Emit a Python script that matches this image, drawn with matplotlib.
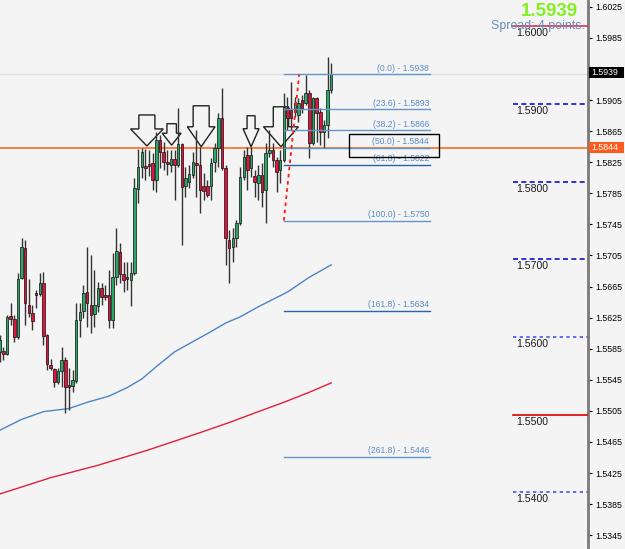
import numpy as np
import matplotlib
matplotlib.use("Agg")
import matplotlib.pyplot as plt
from matplotlib.patches import Polygon, Rectangle

plt.rcParams['font.family'] = ['Liberation Sans', 'DejaVu Sans']

# =============================================================================
# DATOS
# =============================================================================
opens = [1.5581, 1.5582, 1.5578, 1.5627, 1.5623, 1.5600, 1.5676, 1.5715, 1.5641, 1.5631,
         1.5657, 1.5655, 1.5670, 1.5603, 1.5564, 1.5559, 1.5542, 1.5556, 1.5571, 1.5538,
         1.5537, 1.5543, 1.5622, 1.5634, 1.5658, 1.5641, 1.5630, 1.5640, 1.5663, 1.5654,
         1.5654, 1.5622, 1.5677, 1.5710, 1.5681, 1.5677, 1.5673, 1.5682, 1.5791, 1.5819,
         1.5820, 1.5823, 1.5824, 1.5802, 1.5854, 1.5838, 1.5825, 1.5822, 1.5829, 1.5822,
         1.5849, 1.5794, 1.5800, 1.5809, 1.5824, 1.5822, 1.5794, 1.5794, 1.5794, 1.5825,
         1.5843, 1.5882, 1.5818, 1.5725, 1.5716, 1.5728, 1.5747, 1.5806, 1.5834, 1.5818,
         1.5807, 1.5798, 1.5809, 1.5789, 1.5837, 1.5841, 1.5828, 1.5815, 1.5828, 1.5895,
         1.5892, 1.5890, 1.5886, 1.5905, 1.5901, 1.5914, 1.5850, 1.5908, 1.5890, 1.5864,
         1.5873, 1.5918]
highs = [1.5603, 1.5587, 1.5628, 1.5644, 1.5628, 1.5682, 1.5728, 1.5725, 1.5675, 1.5641,
         1.5661, 1.5682, 1.5684, 1.5604, 1.5572, 1.5560, 1.5560, 1.5587, 1.5574, 1.5560,
         1.5558, 1.5644, 1.5644, 1.5667, 1.5716, 1.5706, 1.5686, 1.5671, 1.5670, 1.5667,
         1.5686, 1.5708, 1.5740, 1.5721, 1.5697, 1.5697, 1.5697, 1.5805, 1.5842, 1.5843,
         1.5842, 1.5841, 1.5837, 1.5864, 1.5860, 1.5851, 1.5841, 1.5841, 1.5841, 1.5895,
         1.5850, 1.5819, 1.5822, 1.5838, 1.5867, 1.5845, 1.5811, 1.5802, 1.5831, 1.5850,
         1.5888, 1.5921, 1.5822, 1.5738, 1.5740, 1.5751, 1.5819, 1.5841, 1.5845, 1.5845,
         1.5815, 1.5822, 1.5824, 1.5850, 1.5867, 1.5850, 1.5832, 1.5841, 1.5914, 1.5909,
         1.5928, 1.5909, 1.5908, 1.5912, 1.5937, 1.5918, 1.5909, 1.5909, 1.5895, 1.5879,
         1.5961, 1.5953]
lows = [1.5568, 1.5571, 1.5577, 1.5616, 1.5594, 1.5598, 1.5675, 1.5616, 1.5626, 1.5609,
        1.5637, 1.5653, 1.5590, 1.5558, 1.5558, 1.5536, 1.5540, 1.5536, 1.5502, 1.5506,
        1.5529, 1.5541, 1.5600, 1.5625, 1.5613, 1.5605, 1.5613, 1.5632, 1.5641, 1.5648,
        1.5612, 1.5612, 1.5667, 1.5670, 1.5658, 1.5661, 1.5640, 1.5680, 1.5773, 1.5805,
        1.5802, 1.5807, 1.5789, 1.5787, 1.5818, 1.5815, 1.5809, 1.5813, 1.5776, 1.5819,
        1.5719, 1.5780, 1.5792, 1.5805, 1.5780, 1.5760, 1.5776, 1.5780, 1.5776, 1.5813,
        1.5819, 1.5815, 1.5693, 1.5670, 1.5697, 1.5716, 1.5744, 1.5802, 1.5789, 1.5806,
        1.5780, 1.5776, 1.5767, 1.5747, 1.5832, 1.5819, 1.5787, 1.5798, 1.5825, 1.5867,
        1.5867, 1.5883, 1.5877, 1.5888, 1.5899, 1.5831, 1.5847, 1.5851, 1.5847, 1.5843,
        1.5856, 1.5914]
closes = [1.5596, 1.5578, 1.5626, 1.5623, 1.5600, 1.5675, 1.5716, 1.5644, 1.5631, 1.5621,
          1.5654, 1.5670, 1.5601, 1.5565, 1.5560, 1.5542, 1.5556, 1.5571, 1.5536, 1.5536,
          1.5545, 1.5622, 1.5632, 1.5657, 1.5644, 1.5628, 1.5641, 1.5663, 1.5652, 1.5652,
          1.5622, 1.5677, 1.5711, 1.5681, 1.5673, 1.5675, 1.5682, 1.5792, 1.5819, 1.5838,
          1.5818, 1.5820, 1.5802, 1.5854, 1.5838, 1.5825, 1.5823, 1.5829, 1.5822, 1.5849,
          1.5793, 1.5805, 1.5810, 1.5825, 1.5822, 1.5789, 1.5788, 1.5783, 1.5824, 1.5843,
          1.5882, 1.5818, 1.5728, 1.5715, 1.5728, 1.5747, 1.5806, 1.5832, 1.5815, 1.5834,
          1.5800, 1.5809, 1.5787, 1.5837, 1.5841, 1.5828, 1.5813, 1.5828, 1.5896, 1.5882,
          1.5882, 1.5901, 1.5901, 1.5895, 1.5914, 1.5850, 1.5908, 1.5888, 1.5864, 1.5873,
          1.5918, 1.5939]

# medias móviles
ma_blue_idx = [0, 6, 12, 19, 24, 30, 35, 39, 43, 48, 53, 58, 62, 66, 71, 79, 85, 91]
ma_blue_val = [1.5480, 1.5494, 1.5504, 1.5508, 1.5516, 1.5524, 1.5535, 1.5546, 1.5562,
               1.5581, 1.5594, 1.5607, 1.5618, 1.5626, 1.5639, 1.5658, 1.5677, 1.5693]
ma_red_idx = [0, 14, 27, 41, 55, 63, 71, 78, 85, 91]
ma_red_val = [1.5398, 1.5419, 1.5435, 1.5455, 1.5477, 1.5490, 1.5504, 1.5516, 1.5529, 1.5541]

# Fibonacci
fib_pct = ['0.0', '23.6', '38.2', '50.0', '61.8', '100.0', '161.8', '261.8']
fib_price = [1.5938, 1.5893, 1.5866, 1.5844, 1.5822, 1.5750, 1.5634, 1.5446]

# niveles redondos
round_levels = [1.6000, 1.5900, 1.5800, 1.5700, 1.5600, 1.5500, 1.5400]

bid = 1.5939
hline_price = 1.5844
axis_ticks = [1.5345 + 0.004 * k for k in range(18)]

# flechas: (índice punta, precio punta, semiancho cabeza, alto cabeza, semiancho cuerpo, alto cuerpo)
arrows = [
    (40.4, 1.5846, 4.5, 0.00219, 2.2, 0.0018),
    (47.2, 1.5847, 2.6, 0.00154, 1.3, 0.00122),
    (55.3, 1.5845, 3.8, 0.00257, 2.2, 0.0027),
    (69.0, 1.5845, 2.2, 0.00232, 1.1, 0.00167),
    (77.2, 1.5845, 4.8, 0.00257, 2.1, 0.00257),
]

# =============================================================================
# GRÁFICA
# =============================================================================
bg = '#f4f4f4'
W, H = 625, 549
fig = plt.figure(figsize=(W / 100, H / 100), dpi=100, facecolor=bg)
ax = fig.add_axes([0, 0, 588 / W, 1])
ax.set_facecolor(bg)
ax.set_xlim(0.08, 161.49)
ax.set_ylim(1.53272, 1.603386)

x = np.arange(len(opens))
o = np.array(opens); h = np.array(highs); l = np.array(lows); c = np.array(closes)
up = c >= o

# línea bid tenue
ax.axhline(bid, color='#e2e2e2', lw=1, zorder=1)
# línea horizontal naranja
ax.axhline(hline_price, color='#ff6a26', lw=1.2, zorder=2)

# medias
ax.plot(ma_blue_idx, ma_blue_val, color='#4a86c4', lw=1, zorder=2)
ax.plot(ma_red_idx, ma_red_val, color='#e0203e', lw=1, zorder=2)

# flechas
for tx, ty, hw, hh, sw, sh in arrows:
    pts = [(tx, ty), (tx - hw, ty + hh), (tx - sw, ty + hh), (tx - sw, ty + hh + sh),
           (tx + sw, ty + hh + sh), (tx + sw, ty + hh), (tx + hw, ty + hh)]
    ax.add_patch(Polygon(pts, closed=True, fill=False, ec='#222222', lw=1, zorder=3))

# velas
ax.vlines(x, l, h, color='#333333', lw=1, zorder=4)
body = np.where(np.abs(c - o) < 0.00015, 0.00015 * np.sign(c - o + 1e-12), c - o)
ax.bar(x[up], body[up], bottom=o[up], width=0.7, color='#2aa864', edgecolor='#111111',
       lw=0.5, zorder=5)
ax.bar(x[~up], body[~up], bottom=o[~up], width=0.7, color='#e2123f', edgecolor='#111111',
       lw=0.5, zorder=5)

# Fibonacci
fib_x0, fib_x1 = 78.0, 118.1
for pct, pr in zip(fib_pct, fib_price):
    col = '#2a64a8' if pct in ('61.8', '161.8') else '#6396c9'
    ax.plot([fib_x0, fib_x1], [pr, pr], color=col, lw=1, zorder=6)
    ax.text(fib_x1 - 0.2, pr + 0.0002, f'({pct}) - {pr:.4f}', color='#5a8cc4',
            fontsize=6.2, ha='right', va='bottom', zorder=7)
ax.plot([78.0, 82.2], [fib_price[5], fib_price[0]], color='#ff1a1a', lw=1.3,
        linestyle=(0, (2, 2)), zorder=6)

# rectángulo sobre 50.0
ax.add_patch(Rectangle((95.9, 1.58318), 24.7, 0.00296, fill=False, ec='black', lw=1, zorder=7))

# niveles redondos
styles = {1.6000: ('#e0304a', '-'), 1.5500: ('#dd0000', '-'),
          1.5900: ('#1010d0', (0, (3, 2))), 1.5800: ('#1010d0', (0, (3, 2))),
          1.5700: ('#1010d0', (0, (3, 2))), 1.5600: ('#5050f0', (0, (2, 2))),
          1.5400: ('#5050f0', (0, (2, 2)))}
for lv in round_levels:
    col, ls = styles[lv]
    ax.plot([140.9, 161.49], [lv, lv], color=col, lw=1.2, linestyle=ls, zorder=3)
    ax.text(141.7, lv - 0.00025, f'{lv:.4f}', fontsize=7.6, color='#1a1a1a',
            ha='left', va='top', zorder=3)

# eje derecho
for s in ['left', 'top', 'bottom']:
    ax.spines[s].set_visible(False)
ax.spines['right'].set_color('#7a7a7a')
ax.spines['right'].set_linewidth(2)
ax.set_xticks([])
ax.yaxis.tick_right()
ax.set_yticks(axis_ticks)
ax.set_yticklabels([f'{t:.4f}' for t in axis_ticks])
ax.tick_params(axis='y', length=3, width=0.8, pad=2, labelsize=6.3, colors='black')

# cajas de precio (tapan la etiqueta del eje que queda detrás)
for price, y_px, fc in [(bid, 72.5, 'black'), (hline_price, 147.5, '#ff5a1e')]:
    fig.patches.append(Rectangle((589 / W, 1 - (y_px + 5.5) / H), 35 / W, 11 / H,
                                 transform=fig.transFigure, fc=fc, ec='none', zorder=5))
    fig.text(591 / W, 1 - y_px / H, f'{price:.4f}', fontsize=6.3, color='white',
             ha='left', va='center', zorder=6)

# textos arriba a la derecha
fig.text(578 / W, 1 - 12 / H, f'{bid:.4f}', fontsize=13.5, fontweight='bold',
         color='#84f020', ha='right', va='center')
fig.text(585 / W, 1 - 26 / H, 'Spread: 4 points.', fontsize=8.9, color='#6a8db5',
         ha='right', va='center')

plt.savefig('out.png', dpi=100, facecolor=bg)
